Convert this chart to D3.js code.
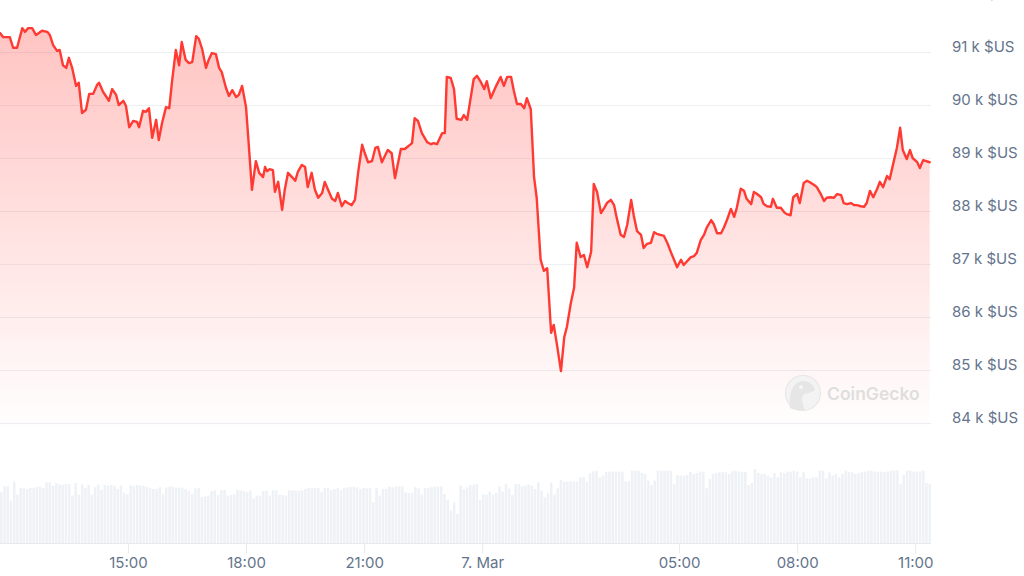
<!DOCTYPE html>
<html><head><meta charset="utf-8">
<script src="https://cdn.jsdelivr.net/npm/d3@7"></script>
<style>html,body{margin:0;padding:0;background:#fff;overflow:hidden}svg{display:block}</style>
</head><body><svg id="c" width="1024" height="576"></svg>
<script>
// ---- DATA ----
// time of each price point, minutes since 6 Mar 00:00
const timeMin = [705,710,720,725,731,739,743,748,754,760,769,777,781,786,792,796,801,806,810,815,821,825,830,836,841,847,853,856,862,871,876,882,886,893,897,902,908,914,917,923,927,932,937,943,947,952,958,963,967,973,978,982,988,993,998,1004,1008,1013,1019,1023,1028,1034,1039,1043,1049,1054,1059,1065,1069,1074,1080,1084,1089,1095,1100,1106,1109,1112,1116,1121,1124,1129,1135,1139,1144,1150,1155,1159,1165,1170,1174,1180,1185,1190,1196,1200,1205,1211,1216,1220,1226,1231,1235,1241,1246,1251,1257,1261,1266,1272,1277,1281,1287,1296,1302,1307,1316,1322,1333,1337,1342,1348,1356,1362,1366,1371,1379,1383,1386,1392,1397,1401,1408,1412,1417,1427,1432,1438,1443,1447,1453,1462,1468,1473,1478,1484,1488,1493,1499,1504,1508,1514,1519,1523,1529,1534,1539,1545,1549,1554,1560,1565,1569,1575,1580,1584,1590,1595,1600,1606,1610,1615,1621,1626,1630,1636,1641,1645,1651,1656,1661,1667,1671,1676,1682,1686,1691,1697,1702,1706,1717,1722,1728,1732,1737,1743,1747,1758,1763,1767,1773,1778,1782,1789,1793,1798,1804,1808,1813,1819,1824,1828,1834,1839,1843,1850,1854,1859,1865,1869,1874,1880,1883,1889,1895,1900,1904,1910,1914,1920,1924,1930,1935,1941,1946,1950,1956,1961,1965,1971,1976,1981,1987,1991,1996,2002,2007,2011,2017,2022,2026,2031,2036,2042,2046,2051,2057,2061,2066,2072,2077,2081,2087,2092,2096,2103,2107,2112,2122];
// BTC price in $US
const prices = [91360,91280,91280,91080,91080,91450,91380,91450,91450,91320,91400,91380,91320,91130,91020,91040,90750,90700,90890,90700,90360,90420,89850,89910,90210,90210,90380,90420,90250,90080,90300,90190,90000,90080,89980,89580,89700,89680,89580,89890,89870,89940,89380,89720,89340,89660,89960,89940,90420,91040,90750,91190,90850,90790,90810,91300,91250,91060,90700,90850,90980,90960,90700,90620,90340,90170,90280,90150,90190,90360,89960,89280,88400,88940,88720,88640,88830,88750,88790,88770,88360,88550,88020,88400,88720,88640,88570,88740,88870,88830,88450,88720,88400,88250,88340,88550,88400,88230,88190,88340,88090,88190,88150,88110,88210,88740,89250,89090,88920,88940,89190,89210,88920,89150,89090,88620,89170,89170,89280,89750,89700,89470,89300,89260,89280,89260,89470,89470,90530,90510,90300,89740,89720,89810,89720,90490,90550,90430,90300,90450,90130,90380,90530,90360,90530,90530,90280,90020,90020,89940,90130,89920,88640,88250,87080,86870,86920,85700,85850,85470,84980,85620,85810,86260,86550,87400,87130,87170,86940,87230,88510,88360,87960,88060,88150,88210,88110,87870,87550,87510,87740,88210,87910,87620,87550,87300,87380,87400,87600,87570,87530,87400,87210,87090,86940,87080,86980,87130,87150,87210,87450,87550,87680,87830,87750,87580,87580,87680,87830,88040,87890,88060,88420,88380,88230,88130,88360,88320,88260,88130,88090,88080,88230,88060,88060,87980,87940,87920,88260,88320,88150,88530,88570,88530,88490,88450,88320,88190,88250,88260,88250,88320,88300,88150,88130,88150,88110,88110,88090,88080,88150,88380,88260,88420,88550,88450,88660,88600,88870,89190,89570,89150,88980,89150,89000,88920,88810,88960,88920];
// relative trading volume per 5-minute interval
const volumes = [
152,170,170,127,184,145,165,164,162,165,
165,168,169,165,182,182,172,180,176,175,
177,176,142,180,145,176,165,175,145,168,
175,160,174,172,173,172,162,172,150,146,
172,170,174,172,172,168,164,162,162,167,
148,167,169,169,166,166,164,162,156,148,
164,165,138,140,142,156,158,144,158,159,
142,144,146,160,158,156,153,157,134,142,
142,156,157,142,158,158,144,144,142,158,
158,157,157,158,162,166,
165,165,165,152,165,165,159,162,165,159,
165,167,167,169,167,162,165,164,165,122,
165,142,162,162,169,167,170,170,169,152,
150,150,167,164,145,165,165,167,169,169,
169,147,129,97,122,87,172,162,167,174,
175,177,129,145,145,154,145,150,169,154,
177,164,145,177,177,170,172,175,172,162,
182,157,137,149,182,145,164,189,184,184,
185,185,185,197,197,184,209,215,217,197,
202,214,214,214,214,214,
212,185,185,217,217,217,210,207,187,174,
187,217,217,217,217,217,177,204,202,202,
204,214,207,210,214,214,164,192,207,210,
212,214,212,207,215,217,214,214,214,174,
180,222,210,207,207,202,197,210,197,212,
210,214,214,217,214,197,212,194,194,197,
197,217,217,194,212,202,207,197,207,217,
214,212,207,210,214,214,217,217,214,214,
214,212,214,217,217,217,177,204,217,217,
214,214,214,217,180,177];
const yTickValues = [84000,85000,86000,87000,88000,89000,90000,91000,92000];
const xTickMinutes = [900,1080,1260,1440,1740,1920,2100];
const xTickLabels = ["15:00","18:00","21:00","7. Mar","05:00","08:00","11:00"];
const domainMinutes = [705,2124];

// ---- CHART ----
const svg = d3.select("#c");
const plotRight = 931, areaBottom = 432, volBase = 543;
const base = new Date(2025,2,6,0,0).getTime();
const toDate = m => new Date(base + m*60000);

const x = d3.scaleTime().domain(domainMinutes.map(toDate)).range([0, plotRight]);
const y = d3.scaleLinear().domain([84000, 91000]).range([423, 52]);
const yv = d3.scaleLinear().domain([0, 225]).range([volBase, volBase - 75]);
const xb = d3.scaleBand().domain(d3.range(volumes.length)).range([0, plotRight]).paddingInner(0.22).paddingOuter(0);

const n = Math.min(timeMin.length, prices.length);
const pts = d3.range(n).map(i => ({t: toDate(timeMin[i]), p: prices[i]}));

const defs = svg.append("defs");
const grad = defs.append("linearGradient").attr("id","fillG")
  .attr("gradientUnits","userSpaceOnUse").attr("x1",0).attr("y1",0).attr("x2",0).attr("y2",areaBottom);
grad.append("stop").attr("offset","0%").attr("stop-color","#ff3a33").attr("stop-opacity",0.32);
grad.append("stop").attr("offset","100%").attr("stop-color","#ff3a33").attr("stop-opacity",0.0);
defs.append("clipPath").attr("id","clipP").append("rect").attr("x",0).attr("y",-5).attr("width",plotRight).attr("height",areaBottom+5);

// volume bars
svg.append("g").selectAll("rect").data(volumes).join("rect")
  .attr("x",(d,i)=>xb(i)).attr("width",xb.bandwidth())
  .attr("y",d=>yv(d)).attr("height",d=>volBase - yv(d))
  .attr("fill","#eef1f5");

// gridlines
svg.append("g").selectAll("line").data(yTickValues).join("line")
  .attr("x1",0).attr("x2",plotRight)
  .attr("y1",d=>Math.round(y(d))+0.5).attr("y2",d=>Math.round(y(d))+0.5)
  .attr("stroke","#eeeff3").attr("stroke-width",1);

// y labels
svg.append("g").selectAll("text").data(yTickValues).join("text")
  .attr("x",952).attr("y",d=>Math.round(y(d)))
  .attr("font-family","Inter, 'Noto Sans', sans-serif").attr("font-size",15)
  .attr("fill","#64748b")
  .text(d=>`${d/1000} k $US`);

// area + line
const g = svg.append("g").attr("clip-path","url(#clipP)");
g.append("path").datum(pts)
  .attr("d", d3.area().x(d=>x(d.t)).y0(areaBottom).y1(d=>y(d.p)))
  .attr("fill","url(#fillG)");

// watermark
const wm = svg.append("g").attr("opacity",0.9);
wm.append("circle").attr("cx",803).attr("cy",393).attr("r",17.5).attr("fill","#f3f3f3").attr("stroke","#e6e6e6").attr("stroke-width",1.2);
wm.append("path").attr("d","M790,408 C789,398 790,386 799,382 C806,379 814,384 815,390 C812,393 806,393 803,395 C801,400 803,405 805,410 C799,411 794,410 790,408 Z").attr("fill","#e4e4e4");
wm.append("circle").attr("cx",801).attr("cy",387).attr("r",2).attr("fill","#f6f6f6");
wm.append("text").attr("x",827).attr("y",400)
  .attr("font-family","Inter, 'Noto Sans', sans-serif").attr("font-size",17.5).attr("font-weight",600)
  .attr("fill","#dcdcdc").text("CoinGecko");

g.append("path").datum(pts)
  .attr("d", d3.line().x(d=>x(d.t)).y(d=>y(d.p)))
  .attr("fill","none").attr("stroke","#ff3a33").attr("stroke-width",2.4)
  .attr("stroke-linejoin","round").attr("stroke-linecap","round");

// x axis
const ax = svg.append("g").attr("transform",`translate(0,${volBase + 0.5})`)
  .call(d3.axisBottom(x).tickValues(xTickMinutes.map(toDate))
    .tickFormat((d,i)=>xTickLabels[i]).tickSize(10).tickSizeOuter(0).tickPadding(4));
ax.select(".domain").attr("stroke","#e6e9ef").attr("d",`M0,0H${plotRight}`);
ax.selectAll(".tick line").attr("stroke","#e6e9ef");
ax.selectAll(".tick text").attr("fill","#64748b").attr("font-size",15)
  .attr("font-family","Inter, 'Noto Sans', sans-serif");
</script></body></html>
